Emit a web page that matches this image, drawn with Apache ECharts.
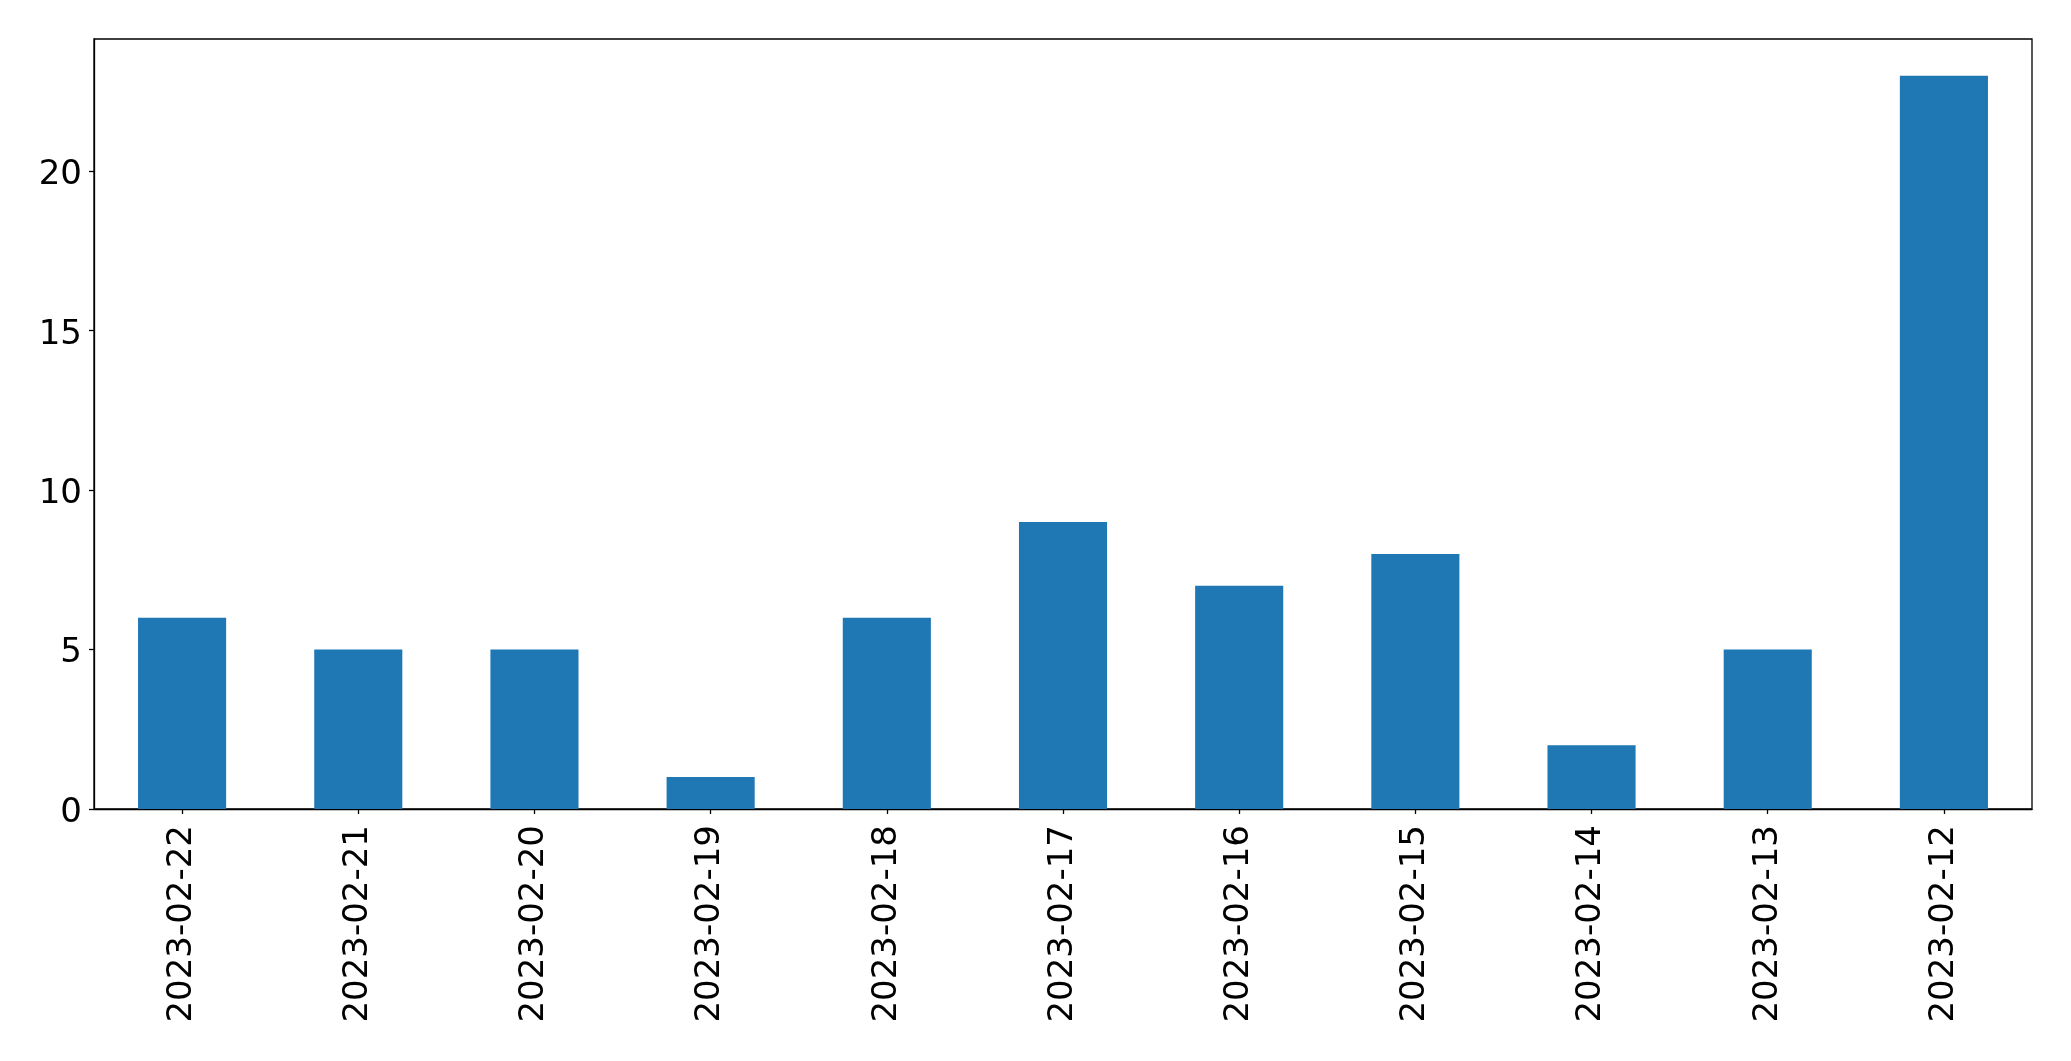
<!DOCTYPE html>
<html>
<head>
<meta charset="utf-8">
<script src="https://cdn.jsdelivr.net/npm/echarts@6/dist/echarts.min.js"></script>
<style>html,body{margin:0;padding:0;background:#fff;}#chart{width:2071px;height:1061px;}</style>
</head>
<body>
<div id="chart"></div>
<script>
const categories = ["2023-02-22","2023-02-21","2023-02-20","2023-02-19","2023-02-18","2023-02-17","2023-02-16","2023-02-15","2023-02-14","2023-02-13","2023-02-12"];
const values = [6,5,5,1,6,9,7,8,2,5,23];
const yTicks = [0,5,10,15,20];

const chart = echarts.init(document.getElementById('chart'), null, {renderer:'canvas'});
const font = 'DejaVu Sans';
chart.setOption({
  animation: false,
  backgroundColor: '#fff',
  grid: {left: 94, right: 39, top: 39, bottom: 252, show: true, borderColor: '#000', borderWidth: 1.3, backgroundColor: 'transparent'},
  xAxis: {
    type: 'category',
    data: categories,
    boundaryGap: true,
    axisLine: {show: true, lineStyle: {color: '#000', width: 1.3}},
    axisTick: {show: true, alignWithLabel: true, length: 5, lineStyle: {color: '#000', width: 1.3}},
    axisLabel: {rotate: 90, margin: 16, color: '#000', fontFamily: font, fontSize: 34, interval: 0},
    splitLine: {show: false}
  },
  yAxis: {
    type: 'value',
    min: 0,
    max: 24.15,
    interval: 5,
    axisLine: {show: true, lineStyle: {color: '#000', width: 1.3}},
    axisTick: {show: true, length: 5, customValues: yTicks, lineStyle: {color: '#000', width: 1.3}},
    axisLabel: {
      margin: 12, color: '#000', fontFamily: font, fontSize: 34, customValues: yTicks,
      formatter: function (v) { return '{a|' + v + '}'; },
      rich: {a: {color: '#000', fontFamily: font, fontSize: 34, padding: [8, 0, 0, 0]}}
    },
    splitLine: {show: false}
  },
  series: [{
    type: 'bar',
    data: values,
    barWidth: '50%',
    itemStyle: {color: '#1f77b4'}
  }]
});
</script>
</body>
</html>
